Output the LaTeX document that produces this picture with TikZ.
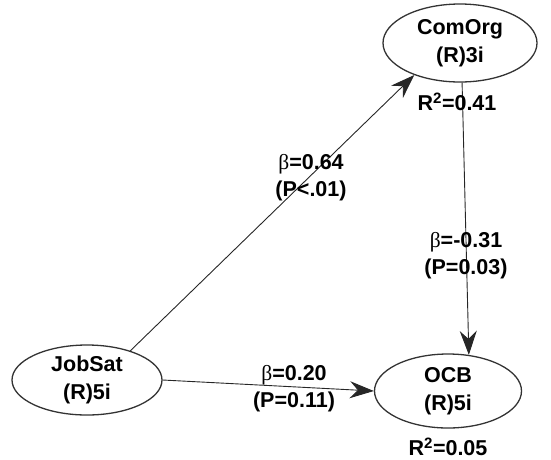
\documentclass[tikz,border=0pt]{standalone}
\usepackage{fontspec}
\setmainfont{Liberation Sans}
\newfontfamily\betafont{Liberation Serif}
\usetikzlibrary{shapes.geometric,arrows.meta}
\tikzset{
	latent/.style={ellipse, draw=black!80, line width=1.3pt, minimum width=154pt, minimum height=78pt, inner sep=0pt, align=center, font=\fontsize{21.5}{27.5}\selectfont\bfseries},
	coef/.style={align=center, inner sep=0pt, font=\fontsize{21.5}{27}\selectfont\bfseries},
	path/.style={draw=black!85, line width=0.9pt, -{Stealth[length=24pt, width=17pt, inset=8pt]}}
}
\newcommand{\bet}{{\betafont\mdseries β}}
\begin{document}
	\begin{tikzpicture}[x=1pt, y=-1pt]
		\useasboundingbox (0,0) rectangle (551,459);
		
		\node[latent] (comorg) at (460,43) {ComOrg\\(R)3i};
		\node[latent, minimum width=150pt, minimum height=70pt] (jobsat) at (87,380) {JobSat\\(R)5i};
		\node[latent, minimum width=147pt, minimum height=74pt] (ocb) at (448,391) {OCB\\(R)5i};
		
		\draw[path] (jobsat.34) -- (comorg.215);
		\draw[path] (comorg.-87) -- (ocb.60);
		\draw[path] (jobsat.east) -- (ocb.west);
		
		\node[coef] (b1) at (311,178) {\bet=0.64\\(P<.01)};
		\node[coef] (b2) at (466,256) {\bet=-0.31\\(P=0.03)};
		\node[coef] (b3) at (294,389) {\bet=0.20\\(P=0.11)};
		
		\node[coef] (r1) at (457,102) {R$^{\mathbf{2}}$=0.41};
		\node[coef] (r2) at (448,447) {R$^{\mathbf{2}}$=0.05};
	\end{tikzpicture}
\end{document}
